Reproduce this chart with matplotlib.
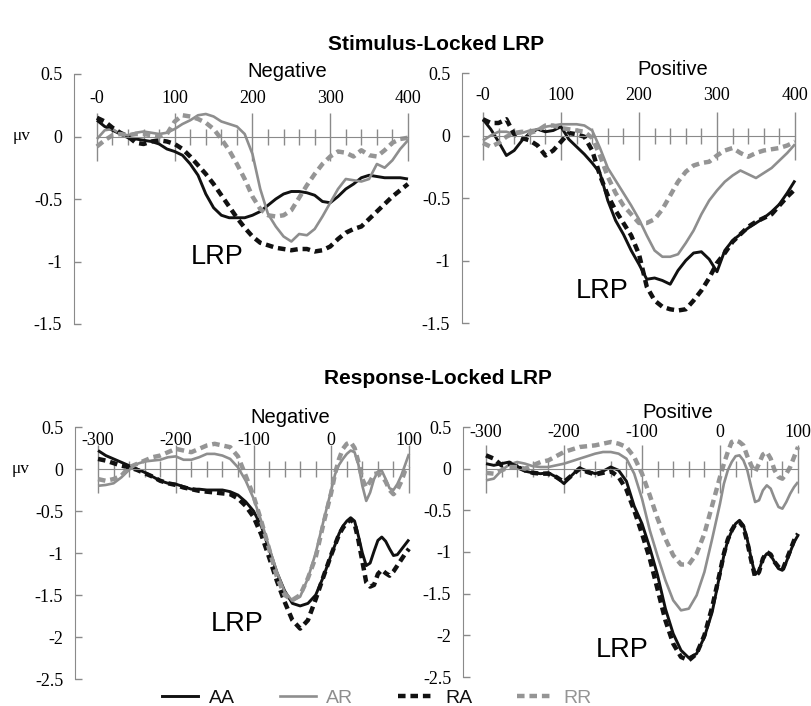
import matplotlib
matplotlib.use('Agg')
import matplotlib.pyplot as plt
from matplotlib.lines import Line2D
from matplotlib.ticker import FixedLocator

plt.rcParams['font.family'] = ['Liberation Serif', 'DejaVu Serif']

# ---------------- data ----------------
conditions = ['AA', 'AR', 'RA', 'RR']

stim_t = list(range(0, 401, 10))
resp_t = list(range(-300, 0, 10)) + list(range(0, 101, 5))

# Stimulus-locked, Negative
stim_neg_AA = [0.13, 0.08, 0.05, 0.02, -0.01, -0.02, -0.03, -0.04, -0.06, -0.10, -0.12,
               -0.15, -0.22, -0.31, -0.46, -0.57, -0.63, -0.65, -0.65, -0.65, -0.63,
               -0.60, -0.55, -0.50, -0.46, -0.44, -0.44, -0.45, -0.47, -0.52, -0.53,
               -0.48, -0.42, -0.38, -0.33, -0.31, -0.32, -0.33, -0.33, -0.33, -0.34]
stim_neg_AR = [-0.02, 0.05, 0.06, 0.02, 0.01, 0.03, 0.04, 0.03, 0.02, 0.03, 0.06,
               0.10, 0.13, 0.17, 0.18, 0.16, 0.12, 0.10, 0.08, 0.02, -0.14,
               -0.42, -0.62, -0.72, -0.80, -0.84, -0.78, -0.79, -0.74, -0.64, -0.53,
               -0.42, -0.34, -0.35, -0.36, -0.34, -0.22, -0.25, -0.19, -0.10, -0.03]
stim_neg_RA = [0.15, 0.12, 0.07, 0.03, 0.00, -0.05, -0.06, -0.04, -0.03, -0.04, -0.06,
               -0.10, -0.16, -0.23, -0.30, -0.38, -0.47, -0.56, -0.65, -0.73, -0.80,
               -0.85, -0.87, -0.89, -0.90, -0.91, -0.90, -0.90, -0.92, -0.91, -0.88,
               -0.82, -0.77, -0.74, -0.72, -0.66, -0.60, -0.54, -0.48, -0.43, -0.38]
stim_neg_RR = [-0.08, -0.03, 0.01, 0.02, 0.01, 0.02, 0.02, 0.01, 0.00, 0.02, 0.12,
               0.17, 0.16, 0.14, 0.11, 0.06, -0.02, -0.11, -0.22, -0.34, -0.48,
               -0.58, -0.63, -0.64, -0.63, -0.59, -0.49, -0.39, -0.30, -0.22, -0.16,
               -0.12, -0.13, -0.16, -0.11, -0.15, -0.16, -0.11, -0.05, -0.02, -0.01]

# Stimulus-locked, Positive
stim_pos_AA = [0.13, 0.05, -0.05, -0.16, -0.12, -0.04, 0.02, 0.05, 0.03, 0.04, 0.07,
               -0.03, -0.09, -0.15, -0.22, -0.30, -0.52, -0.68, -0.79, -0.92, -1.03,
               -1.15, -1.14, -1.16, -1.19, -1.08, -1.00, -0.94, -0.93, -0.99, -1.09,
               -0.92, -0.84, -0.79, -0.74, -0.70, -0.66, -0.61, -0.55, -0.46, -0.36]
stim_pos_AR = [-0.04, 0.00, 0.03, 0.03, 0.01, 0.02, 0.04, 0.05, 0.07, 0.08, 0.09,
               0.09, 0.09, 0.08, 0.04, -0.10, -0.26, -0.36, -0.46, -0.56, -0.67,
               -0.80, -0.92, -0.97, -0.97, -0.95, -0.86, -0.76, -0.63, -0.52, -0.44,
               -0.37, -0.32, -0.28, -0.31, -0.34, -0.30, -0.26, -0.20, -0.14, -0.07]
stim_pos_RA = [0.13, 0.10, 0.10, 0.13, 0.01, -0.02, -0.04, -0.08, -0.16, -0.12, -0.05,
               0.02, 0.01, -0.01, -0.12, -0.32, -0.48, -0.60, -0.70, -0.80, -0.95,
               -1.21, -1.32, -1.37, -1.39, -1.40, -1.39, -1.32, -1.24, -1.14, -1.02,
               -0.94, -0.85, -0.79, -0.73, -0.69, -0.66, -0.63, -0.56, -0.49, -0.43]
stim_pos_RR = [-0.06, -0.09, -0.06, -0.01, 0.02, 0.03, 0.02, 0.04, 0.08, 0.08, 0.06,
               0.05, 0.04, 0.03, -0.02, -0.16, -0.33, -0.46, -0.56, -0.63, -0.70,
               -0.70, -0.67, -0.59, -0.48, -0.37, -0.29, -0.24, -0.22, -0.21, -0.16,
               -0.12, -0.10, -0.14, -0.17, -0.14, -0.12, -0.11, -0.10, -0.08, -0.05]

# Response-locked, Negative
resp_neg_AA = [0.22, 0.16, 0.12, 0.08, 0.04, 0.00, -0.04, -0.09, -0.14, -0.17,
               -0.18, -0.21, -0.24, -0.24, -0.25, -0.25, -0.25, -0.27, -0.31, -0.39,
               -0.50, -0.68, -0.95, -1.23, -1.45, -1.60, -1.63, -1.60, -1.50, -1.28,
               -1.02, -0.90, -0.77, -0.68, -0.62, -0.58, -0.62, -0.80, -1.00, -1.15,
               -1.12, -0.98, -0.85, -0.81, -0.86, -0.95, -1.03, -1.02, -0.96, -0.90, -0.84]
resp_neg_AR = [-0.20, -0.19, -0.17, -0.10, -0.01, 0.06, 0.09, 0.10, 0.11, 0.14,
               0.15, 0.11, 0.11, 0.14, 0.18, 0.18, 0.16, 0.12, 0.02, -0.14,
               -0.35, -0.62, -0.93, -1.22, -1.46, -1.57, -1.52, -1.30, -1.00, -0.62,
               -0.25, -0.06, 0.05, 0.12, 0.18, 0.22, 0.20, 0.05, -0.20, -0.38,
               -0.28, -0.12, -0.03, -0.02, -0.12, -0.23, -0.25, -0.18, -0.08, 0.05, 0.18]
resp_neg_RA = [0.12, 0.10, 0.07, 0.04, 0.02, -0.01, -0.05, -0.09, -0.14, -0.17,
               -0.19, -0.22, -0.24, -0.26, -0.27, -0.28, -0.29, -0.30, -0.35, -0.44,
               -0.57, -0.78, -1.05, -1.33, -1.58, -1.80, -1.90, -1.80, -1.55, -1.28,
               -1.02, -0.90, -0.78, -0.70, -0.64, -0.60, -0.65, -0.85, -1.10, -1.35,
               -1.40, -1.38, -1.25, -1.20, -1.24, -1.27, -1.22, -1.15, -1.08, -1.01, -0.95]
resp_neg_RR = [-0.12, -0.14, -0.12, -0.08, 0.02, 0.06, 0.10, 0.14, 0.16, 0.20,
               0.24, 0.22, 0.20, 0.24, 0.28, 0.30, 0.28, 0.26, 0.15, -0.08,
               -0.32, -0.62, -0.95, -1.28, -1.50, -1.56, -1.50, -1.30, -1.05, -0.65,
               -0.28, -0.05, 0.12, 0.24, 0.30, 0.32, 0.25, 0.08, -0.12, -0.22,
               -0.15, -0.06, -0.05, -0.08, -0.15, -0.25, -0.30, -0.25, -0.15, -0.02, 0.03]

# Response-locked, Positive
resp_pos_AA = [0.06, 0.04, 0.06, 0.08, 0.03, -0.03, -0.05, -0.06, -0.05, -0.10,
               -0.18, -0.08, 0.01, -0.03, -0.06, -0.03, 0.02, -0.02, -0.15, -0.45,
               -0.66, -0.95, -1.28, -1.68, -1.98, -2.18, -2.27, -2.22, -2.02, -1.72,
               -1.26, -1.04, -0.86, -0.75, -0.66, -0.62, -0.68, -0.85, -1.08, -1.27,
               -1.22, -1.08, -1.02, -1.04, -1.12, -1.20, -1.22, -1.12, -1.00, -0.88, -0.80]
resp_pos_AR = [-0.14, -0.12, -0.02, 0.05, 0.08, 0.06, 0.03, 0.02, 0.02, 0.04,
               0.06, 0.09, 0.12, 0.15, 0.18, 0.20, 0.20, 0.18, 0.12, -0.06,
               -0.36, -0.74, -1.05, -1.34, -1.58, -1.70, -1.68, -1.52, -1.24, -0.84,
               -0.42, -0.18, -0.02, 0.08, 0.15, 0.16, 0.10, -0.02, -0.22, -0.40,
               -0.38, -0.26, -0.20, -0.24, -0.36, -0.46, -0.48, -0.40, -0.30, -0.22, -0.16]
resp_pos_RA = [0.16, 0.12, 0.04, 0.06, 0.02, -0.02, -0.05, -0.06, -0.06, -0.10,
               -0.16, -0.08, 0.00, -0.04, -0.07, -0.05, -0.03, -0.10, -0.25, -0.50,
               -0.78, -1.08, -1.45, -1.82, -2.10, -2.26, -2.30, -2.22, -2.00, -1.66,
               -1.24, -1.02, -0.85, -0.74, -0.66, -0.64, -0.70, -0.88, -1.10, -1.30,
               -1.24, -1.08, -1.00, -1.03, -1.12, -1.18, -1.22, -1.10, -0.98, -0.86, -0.78]
resp_pos_RR = [-0.05, -0.06, -0.02, 0.02, 0.02, 0.00, 0.04, 0.08, 0.10, 0.15,
               0.20, 0.23, 0.26, 0.27, 0.28, 0.30, 0.32, 0.30, 0.26, 0.14,
               -0.06, -0.32, -0.60, -0.84, -1.04, -1.15, -1.15, -1.02, -0.78, -0.44,
               -0.10, 0.06, 0.20, 0.32, 0.34, 0.32, 0.28, 0.15, 0.04, -0.04,
               0.06, 0.17, 0.20, 0.12, -0.02, -0.10, -0.12, -0.06, 0.02, 0.14, 0.26]

stim_xticks = [0, 100, 200, 300, 400]
stim_xticklabels = ['-0', '100', '200', '300', '400']
resp_xticks = [-300, -200, -100, 0, 100]
resp_xticklabels = ['-300', '-200', '-100', '0', '100']
stim_yticks = [0.5, 0, -0.5, -1, -1.5]
stim_yticklabels = ['0.5', '0', '-0.5', '-1', '-1.5']
resp_yticks = [0.5, 0, -0.5, -1, -1.5, -2, -2.5]
resp_yticklabels = ['0.5', '0', '-0.5', '-1', '-1.5', '-2', '-2.5']

# ---------------- style ----------------
BLACK = '#111111'
GREY = '#8e8e8e'
GREY_D = '#959595'
AXC = '#8a8a8a'
SANS = 'Liberation Sans'
TICK_FS = 13
styles = {
    'AA': dict(color=BLACK, lw=2.1, ls='-'),
    'AR': dict(color=GREY, lw=1.9, ls='-'),
    'RA': dict(color=BLACK, lw=3.2, ls=(0, (1.7, 1.1))),
    'RR': dict(color=GREY_D, lw=3.2, ls=(0, (1.7, 1.1))),
}

W, H = 812, 706
fig = plt.figure(figsize=(W / 100, H / 100), dpi=100)


def rect(l, r, top, bot):
    return [l / W, 1 - bot / H, (r - l) / W, (bot - top) / H]


def panel(rc, t, series, xleft, xticks, xticklabels, yticks, yticklabels,
          subtitle, sub_pos, lrp_pos, label_loc):
    ax = fig.add_axes(rc)
    for c in conditions:
        ax.plot(t, series[c], clip_on=False, solid_capstyle='butt',
                dash_capstyle='butt', **styles[c])
    ax.set_xlim(xleft, xticks[-1])
    ax.set_ylim(yticks[-1], yticks[0])
    ax.spines['top'].set_visible(False)
    ax.spines['right'].set_visible(False)
    ax.spines['bottom'].set_position(('data', 0))
    ax.spines['bottom'].set_bounds(xticks[0], xticks[-1])
    ax.spines['bottom'].set_color(AXC)
    ax.spines['left'].set_color(AXC)
    ax.xaxis.set_major_locator(FixedLocator(xticks))
    ax.xaxis.set_minor_locator(FixedLocator(list(range(xticks[0], xticks[-1] + 1, 20))))
    ax.tick_params(axis='x', which='major', direction='inout', length=34,
                   width=1, color=AXC, labelbottom=False)
    ax.tick_params(axis='x', which='minor', direction='inout', length=11,
                   width=1, color=AXC)
    ax.set_yticks(yticks, yticklabels)
    ax.tick_params(axis='y', direction='in', length=5, width=1, color=AXC,
                   pad=8.5, labelsize=TICK_FS)
    sec = ax.secondary_xaxis(label_loc)
    sec.set_xticks(xticks, xticklabels)
    sec.tick_params(length=0, pad=0, labelsize=TICK_FS)
    for sp in sec.spines.values():
        sp.set_visible(False)
    ax.text(sub_pos[0], sub_pos[1], subtitle, transform=ax.transAxes,
            ha='center', va='baseline', fontsize=14.5, family=SANS)
    ax.text(lrp_pos[0], lrp_pos[1], 'LRP', ha='center', va='baseline',
            fontsize=19.5, family=SANS)
    return ax


panel(rect(74, 408, 74, 324), stim_t,
      dict(AA=stim_neg_AA, AR=stim_neg_AR, RA=stim_neg_RA, RR=stim_neg_RR),
      -29.5, stim_xticks, stim_xticklabels, stim_yticks, stim_yticklabels,
      'Negative', (0.638, 0.988), (154, -1.016), 0.868)
panel(rect(462, 795, 73, 323), stim_t,
      dict(AA=stim_pos_AA, AR=stim_pos_AR, RA=stim_pos_RA, RR=stim_pos_RR),
      -26.9, stim_xticks, stim_xticklabels, stim_yticks, stim_yticklabels,
      'Positive', (0.634, 0.992), (153, -1.296), 0.876)
panel(rect(75, 409, 427, 679), resp_t,
      dict(AA=resp_neg_AA, AR=resp_neg_AR, RA=resp_neg_RA, RR=resp_neg_RR),
      -329.6, resp_xticks, resp_xticklabels, resp_yticks, resp_yticklabels,
      'Negative', (0.644, 1.016), (-121, -1.93), 0.913)
panel(rect(463, 798, 427, 677), resp_t,
      dict(AA=resp_pos_AA, AR=resp_pos_AR, RA=resp_pos_RA, RR=resp_pos_RR),
      -329.5, resp_xticks, resp_xticklabels, resp_yticks, resp_yticklabels,
      'Positive', (0.642, 1.036), (-126, -2.26), 0.944)

# titles and unit labels
fig.text(436 / W, 1 - 44 / H, 'Stimulus-Locked LRP', ha='center', va='center',
         fontsize=15, weight='bold', family=SANS)
fig.text(438 / W, 1 - 378 / H, 'Response-Locked LRP', ha='center', va='center',
         fontsize=15, weight='bold', family=SANS)
fig.text(22 / W, 1 - 140 / H, 'μv', ha='center', va='baseline', fontsize=12.5)
fig.text(21 / W, 1 - 473 / H, 'μv', ha='center', va='baseline', fontsize=12.5)

handles = [Line2D([], [], **styles[c]) for c in conditions]
fig.legend(handles, conditions, loc='center', bbox_to_anchor=(377 / W, 8 / H),
           ncol=4, frameon=False, prop={'family': SANS, 'size': 14},
           handlelength=1.85, handletextpad=0.55, columnspacing=2.3,
           labelcolor='linecolor', borderpad=0, borderaxespad=0)

fig.savefig('out.png', dpi=100)
